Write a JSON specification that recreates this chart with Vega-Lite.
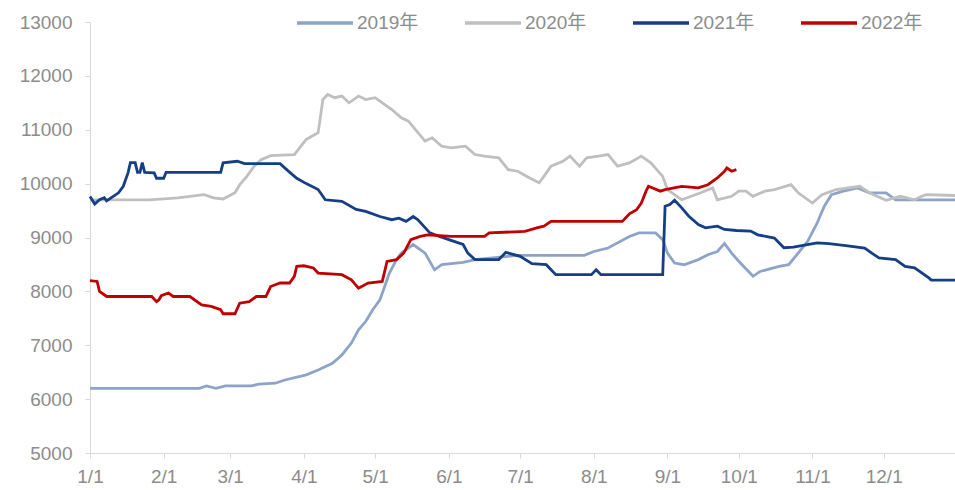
{
  "$schema": "https://vega.github.io/schema/vega-lite/v6.json",
  "width": 865,
  "height": 431,
  "autosize": {"type": "none"},
  "padding": {"left": 90, "top": 22, "right": 0, "bottom": 37},
  "background": "white",
  "config": {
    "view": {"stroke": null},
    "font": "Liberation Sans, Noto Sans CJK SC",
    "axis": {
      "domainColor": "#d9d9d9",
      "tickColor": "#d9d9d9",
      "labelColor": "#8c8c8c",
      "labelFontSize": 19,
      "labelFont": "Liberation Sans, Noto Sans CJK SC",
      "grid": false,
      "title": null
    }
  },
  "data": {
    "format": {"parse": {"d": "date:'%Y-%m-%d'"}},
    "values": [
      {"s": "2019年", "d": "2021-01-01", "v": 6200},
      {"s": "2019年", "d": "2021-02-16", "v": 6200},
      {"s": "2019年", "d": "2021-02-19", "v": 6245},
      {"s": "2019年", "d": "2021-02-23", "v": 6200},
      {"s": "2019年", "d": "2021-02-27", "v": 6245},
      {"s": "2019年", "d": "2021-03-10", "v": 6245},
      {"s": "2019年", "d": "2021-03-13", "v": 6280},
      {"s": "2019年", "d": "2021-03-20", "v": 6295},
      {"s": "2019年", "d": "2021-03-24", "v": 6355},
      {"s": "2019年", "d": "2021-04-02", "v": 6450},
      {"s": "2019年", "d": "2021-04-07", "v": 6540},
      {"s": "2019年", "d": "2021-04-13", "v": 6665},
      {"s": "2019年", "d": "2021-04-17", "v": 6820},
      {"s": "2019年", "d": "2021-04-21", "v": 7040},
      {"s": "2019年", "d": "2021-04-24", "v": 7285},
      {"s": "2019年", "d": "2021-04-27", "v": 7440},
      {"s": "2019年", "d": "2021-04-30", "v": 7660},
      {"s": "2019年", "d": "2021-05-03", "v": 7845},
      {"s": "2019年", "d": "2021-05-05", "v": 8090},
      {"s": "2019年", "d": "2021-05-07", "v": 8340},
      {"s": "2019年", "d": "2021-05-10", "v": 8590},
      {"s": "2019年", "d": "2021-05-12", "v": 8710},
      {"s": "2019年", "d": "2021-05-17", "v": 8870},
      {"s": "2019年", "d": "2021-05-22", "v": 8710},
      {"s": "2019年", "d": "2021-05-26", "v": 8400},
      {"s": "2019年", "d": "2021-05-29", "v": 8495},
      {"s": "2019年", "d": "2021-06-07", "v": 8540},
      {"s": "2019年", "d": "2021-06-12", "v": 8590},
      {"s": "2019年", "d": "2021-06-30", "v": 8670},
      {"s": "2019年", "d": "2021-07-28", "v": 8670},
      {"s": "2019年", "d": "2021-08-01", "v": 8740},
      {"s": "2019年", "d": "2021-08-07", "v": 8805},
      {"s": "2019年", "d": "2021-08-11", "v": 8900},
      {"s": "2019年", "d": "2021-08-16", "v": 9020},
      {"s": "2019年", "d": "2021-08-20", "v": 9085},
      {"s": "2019年", "d": "2021-08-27", "v": 9085},
      {"s": "2019年", "d": "2021-08-30", "v": 8960},
      {"s": "2019年", "d": "2021-09-01", "v": 8710},
      {"s": "2019年", "d": "2021-09-04", "v": 8525},
      {"s": "2019年", "d": "2021-09-08", "v": 8495},
      {"s": "2019年", "d": "2021-09-14", "v": 8590},
      {"s": "2019年", "d": "2021-09-18", "v": 8680},
      {"s": "2019年", "d": "2021-09-22", "v": 8740},
      {"s": "2019年", "d": "2021-09-25", "v": 8890},
      {"s": "2019年", "d": "2021-09-28", "v": 8710},
      {"s": "2019年", "d": "2021-10-01", "v": 8560},
      {"s": "2019年", "d": "2021-10-07", "v": 8280},
      {"s": "2019年", "d": "2021-10-10", "v": 8370},
      {"s": "2019年", "d": "2021-10-18", "v": 8465},
      {"s": "2019年", "d": "2021-10-22", "v": 8495},
      {"s": "2019年", "d": "2021-10-26", "v": 8710},
      {"s": "2019年", "d": "2021-10-30", "v": 8930},
      {"s": "2019年", "d": "2021-11-03", "v": 9270},
      {"s": "2019年", "d": "2021-11-06", "v": 9580},
      {"s": "2019年", "d": "2021-11-09", "v": 9795},
      {"s": "2019年", "d": "2021-11-14", "v": 9860},
      {"s": "2019年", "d": "2021-11-20", "v": 9920},
      {"s": "2019年", "d": "2021-11-25", "v": 9830},
      {"s": "2019年", "d": "2021-12-02", "v": 9830},
      {"s": "2019年", "d": "2021-12-06", "v": 9700},
      {"s": "2019年", "d": "2021-12-31", "v": 9700},

      {"s": "2020年", "d": "2021-01-01", "v": 9700},
      {"s": "2020年", "d": "2021-01-26", "v": 9700},
      {"s": "2020年", "d": "2021-02-07", "v": 9735},
      {"s": "2020年", "d": "2021-02-18", "v": 9795},
      {"s": "2020年", "d": "2021-02-22", "v": 9735},
      {"s": "2020年", "d": "2021-02-26", "v": 9715},
      {"s": "2020年", "d": "2021-03-03", "v": 9830},
      {"s": "2020年", "d": "2021-03-05", "v": 9980},
      {"s": "2020年", "d": "2021-03-08", "v": 10135},
      {"s": "2020年", "d": "2021-03-11", "v": 10320},
      {"s": "2020年", "d": "2021-03-14", "v": 10445},
      {"s": "2020年", "d": "2021-03-18", "v": 10520},
      {"s": "2020年", "d": "2021-03-28", "v": 10540},
      {"s": "2020年", "d": "2021-04-02", "v": 10820},
      {"s": "2020年", "d": "2021-04-07", "v": 10945},
      {"s": "2020年", "d": "2021-04-09", "v": 11560},
      {"s": "2020年", "d": "2021-04-11", "v": 11655},
      {"s": "2020年", "d": "2021-04-14", "v": 11595},
      {"s": "2020年", "d": "2021-04-17", "v": 11625},
      {"s": "2020年", "d": "2021-04-20", "v": 11500},
      {"s": "2020年", "d": "2021-04-24", "v": 11625},
      {"s": "2020年", "d": "2021-04-27", "v": 11560},
      {"s": "2020年", "d": "2021-05-01", "v": 11595},
      {"s": "2020年", "d": "2021-05-04", "v": 11500},
      {"s": "2020年", "d": "2021-05-08", "v": 11375},
      {"s": "2020年", "d": "2021-05-12", "v": 11220},
      {"s": "2020年", "d": "2021-05-15", "v": 11160},
      {"s": "2020年", "d": "2021-05-19", "v": 10945},
      {"s": "2020年", "d": "2021-05-22", "v": 10790},
      {"s": "2020年", "d": "2021-05-25", "v": 10850},
      {"s": "2020年", "d": "2021-05-29", "v": 10695},
      {"s": "2020年", "d": "2021-06-02", "v": 10665},
      {"s": "2020年", "d": "2021-06-08", "v": 10695},
      {"s": "2020年", "d": "2021-06-12", "v": 10540},
      {"s": "2020年", "d": "2021-06-16", "v": 10510},
      {"s": "2020年", "d": "2021-06-22", "v": 10480},
      {"s": "2020年", "d": "2021-06-26", "v": 10260},
      {"s": "2020年", "d": "2021-06-30", "v": 10230},
      {"s": "2020年", "d": "2021-07-05", "v": 10105},
      {"s": "2020年", "d": "2021-07-09", "v": 10015},
      {"s": "2020年", "d": "2021-07-11", "v": 10135},
      {"s": "2020年", "d": "2021-07-14", "v": 10325},
      {"s": "2020年", "d": "2021-07-19", "v": 10415},
      {"s": "2020年", "d": "2021-07-22", "v": 10510},
      {"s": "2020年", "d": "2021-07-26", "v": 10325},
      {"s": "2020年", "d": "2021-07-29", "v": 10480},
      {"s": "2020年", "d": "2021-08-03", "v": 10510},
      {"s": "2020年", "d": "2021-08-07", "v": 10540},
      {"s": "2020年", "d": "2021-08-11", "v": 10325},
      {"s": "2020年", "d": "2021-08-16", "v": 10385},
      {"s": "2020年", "d": "2021-08-21", "v": 10510},
      {"s": "2020年", "d": "2021-08-25", "v": 10385},
      {"s": "2020年", "d": "2021-08-30", "v": 10135},
      {"s": "2020年", "d": "2021-09-01", "v": 9890},
      {"s": "2020年", "d": "2021-09-07", "v": 9700},
      {"s": "2020年", "d": "2021-09-11", "v": 9765},
      {"s": "2020年", "d": "2021-09-15", "v": 9830},
      {"s": "2020年", "d": "2021-09-20", "v": 9920},
      {"s": "2020年", "d": "2021-09-22", "v": 9700},
      {"s": "2020年", "d": "2021-09-28", "v": 9765},
      {"s": "2020年", "d": "2021-10-01", "v": 9860},
      {"s": "2020年", "d": "2021-10-04", "v": 9860},
      {"s": "2020年", "d": "2021-10-07", "v": 9765},
      {"s": "2020年", "d": "2021-10-12", "v": 9860},
      {"s": "2020年", "d": "2021-10-16", "v": 9890},
      {"s": "2020年", "d": "2021-10-23", "v": 9980},
      {"s": "2020年", "d": "2021-10-26", "v": 9830},
      {"s": "2020年", "d": "2021-11-01", "v": 9640},
      {"s": "2020年", "d": "2021-11-05", "v": 9795},
      {"s": "2020年", "d": "2021-11-11", "v": 9890},
      {"s": "2020年", "d": "2021-11-21", "v": 9950},
      {"s": "2020年", "d": "2021-11-25", "v": 9830},
      {"s": "2020年", "d": "2021-12-02", "v": 9690},
      {"s": "2020年", "d": "2021-12-08", "v": 9765},
      {"s": "2020年", "d": "2021-12-14", "v": 9700},
      {"s": "2020年", "d": "2021-12-17", "v": 9765},
      {"s": "2020年", "d": "2021-12-19", "v": 9795},
      {"s": "2020年", "d": "2021-12-31", "v": 9780},

      {"s": "2021年", "d": "2021-01-01", "v": 9760},
      {"s": "2021年", "d": "2021-01-03", "v": 9620},
      {"s": "2021年", "d": "2021-01-05", "v": 9700},
      {"s": "2021年", "d": "2021-01-07", "v": 9740},
      {"s": "2021年", "d": "2021-01-08", "v": 9680},
      {"s": "2021年", "d": "2021-01-10", "v": 9740},
      {"s": "2021年", "d": "2021-01-13", "v": 9830},
      {"s": "2021年", "d": "2021-01-15", "v": 9950},
      {"s": "2021年", "d": "2021-01-17", "v": 10200},
      {"s": "2021年", "d": "2021-01-18", "v": 10390},
      {"s": "2021年", "d": "2021-01-20", "v": 10390},
      {"s": "2021年", "d": "2021-01-21", "v": 10210},
      {"s": "2021年", "d": "2021-01-22", "v": 10210},
      {"s": "2021年", "d": "2021-01-23", "v": 10390},
      {"s": "2021年", "d": "2021-01-24", "v": 10210},
      {"s": "2021年", "d": "2021-01-28", "v": 10200},
      {"s": "2021年", "d": "2021-01-29", "v": 10100},
      {"s": "2021年", "d": "2021-02-01", "v": 10100},
      {"s": "2021年", "d": "2021-02-02", "v": 10210},
      {"s": "2021年", "d": "2021-02-25", "v": 10210},
      {"s": "2021年", "d": "2021-02-26", "v": 10385},
      {"s": "2021年", "d": "2021-03-04", "v": 10415},
      {"s": "2021年", "d": "2021-03-07", "v": 10370},
      {"s": "2021年", "d": "2021-03-22", "v": 10370},
      {"s": "2021年", "d": "2021-03-25", "v": 10250},
      {"s": "2021年", "d": "2021-03-29", "v": 10100},
      {"s": "2021年", "d": "2021-04-02", "v": 10000},
      {"s": "2021年", "d": "2021-04-07", "v": 9890},
      {"s": "2021年", "d": "2021-04-10", "v": 9700},
      {"s": "2021年", "d": "2021-04-17", "v": 9670},
      {"s": "2021年", "d": "2021-04-23", "v": 9520},
      {"s": "2021年", "d": "2021-04-27", "v": 9485},
      {"s": "2021年", "d": "2021-05-03", "v": 9390},
      {"s": "2021年", "d": "2021-05-08", "v": 9330},
      {"s": "2021年", "d": "2021-05-11", "v": 9360},
      {"s": "2021年", "d": "2021-05-14", "v": 9300},
      {"s": "2021年", "d": "2021-05-17", "v": 9390},
      {"s": "2021年", "d": "2021-05-19", "v": 9330},
      {"s": "2021年", "d": "2021-05-24", "v": 9085},
      {"s": "2021年", "d": "2021-05-28", "v": 9020},
      {"s": "2021年", "d": "2021-06-01", "v": 8960},
      {"s": "2021年", "d": "2021-06-07", "v": 8870},
      {"s": "2021年", "d": "2021-06-09", "v": 8710},
      {"s": "2021年", "d": "2021-06-12", "v": 8590},
      {"s": "2021年", "d": "2021-06-22", "v": 8590},
      {"s": "2021年", "d": "2021-06-25", "v": 8725},
      {"s": "2021年", "d": "2021-07-01", "v": 8650},
      {"s": "2021年", "d": "2021-07-06", "v": 8515},
      {"s": "2021年", "d": "2021-07-12", "v": 8495},
      {"s": "2021年", "d": "2021-07-16", "v": 8310},
      {"s": "2021年", "d": "2021-07-31", "v": 8310},
      {"s": "2021年", "d": "2021-08-02", "v": 8400},
      {"s": "2021年", "d": "2021-08-04", "v": 8310},
      {"s": "2021年", "d": "2021-08-30", "v": 8310},
      {"s": "2021年", "d": "2021-08-31", "v": 9580},
      {"s": "2021年", "d": "2021-09-02", "v": 9610},
      {"s": "2021年", "d": "2021-09-04", "v": 9690},
      {"s": "2021年", "d": "2021-09-07", "v": 9550},
      {"s": "2021年", "d": "2021-09-10", "v": 9395},
      {"s": "2021年", "d": "2021-09-14", "v": 9240},
      {"s": "2021年", "d": "2021-09-17", "v": 9180},
      {"s": "2021年", "d": "2021-09-22", "v": 9210},
      {"s": "2021年", "d": "2021-09-25", "v": 9150},
      {"s": "2021年", "d": "2021-09-30", "v": 9130},
      {"s": "2021年", "d": "2021-10-06", "v": 9120},
      {"s": "2021年", "d": "2021-10-09", "v": 9050},
      {"s": "2021年", "d": "2021-10-16", "v": 8990},
      {"s": "2021年", "d": "2021-10-20", "v": 8810},
      {"s": "2021年", "d": "2021-10-24", "v": 8820},
      {"s": "2021年", "d": "2021-11-03", "v": 8900},
      {"s": "2021年", "d": "2021-11-08", "v": 8885},
      {"s": "2021年", "d": "2021-11-15", "v": 8850},
      {"s": "2021年", "d": "2021-11-23", "v": 8805},
      {"s": "2021年", "d": "2021-11-26", "v": 8710},
      {"s": "2021年", "d": "2021-11-29", "v": 8620},
      {"s": "2021年", "d": "2021-12-06", "v": 8590},
      {"s": "2021年", "d": "2021-12-10", "v": 8465},
      {"s": "2021年", "d": "2021-12-14", "v": 8435},
      {"s": "2021年", "d": "2021-12-20", "v": 8250},
      {"s": "2021年", "d": "2021-12-21", "v": 8210},
      {"s": "2021年", "d": "2021-12-31", "v": 8210},

      {"s": "2022年", "d": "2021-01-01", "v": 8200},
      {"s": "2022年", "d": "2021-01-04", "v": 8185},
      {"s": "2022年", "d": "2021-01-05", "v": 8000},
      {"s": "2022年", "d": "2021-01-08", "v": 7905},
      {"s": "2022年", "d": "2021-01-27", "v": 7905},
      {"s": "2022年", "d": "2021-01-29", "v": 7810},
      {"s": "2022年", "d": "2021-01-30", "v": 7845},
      {"s": "2022年", "d": "2021-01-31", "v": 7920},
      {"s": "2022年", "d": "2021-02-03", "v": 7970},
      {"s": "2022年", "d": "2021-02-05", "v": 7905},
      {"s": "2022年", "d": "2021-02-12", "v": 7905},
      {"s": "2022年", "d": "2021-02-17", "v": 7750},
      {"s": "2022年", "d": "2021-02-21", "v": 7720},
      {"s": "2022年", "d": "2021-02-25", "v": 7660},
      {"s": "2022年", "d": "2021-02-26", "v": 7585},
      {"s": "2022年", "d": "2021-03-03", "v": 7585},
      {"s": "2022年", "d": "2021-03-05", "v": 7780},
      {"s": "2022年", "d": "2021-03-09", "v": 7810},
      {"s": "2022年", "d": "2021-03-12", "v": 7905},
      {"s": "2022年", "d": "2021-03-16", "v": 7905},
      {"s": "2022年", "d": "2021-03-18", "v": 8090},
      {"s": "2022年", "d": "2021-03-22", "v": 8155},
      {"s": "2022年", "d": "2021-03-26", "v": 8155},
      {"s": "2022年", "d": "2021-03-28", "v": 8280},
      {"s": "2022年", "d": "2021-03-29", "v": 8465},
      {"s": "2022年", "d": "2021-04-01", "v": 8475},
      {"s": "2022年", "d": "2021-04-05", "v": 8435},
      {"s": "2022年", "d": "2021-04-07", "v": 8340},
      {"s": "2022年", "d": "2021-04-17", "v": 8310},
      {"s": "2022年", "d": "2021-04-21", "v": 8215},
      {"s": "2022年", "d": "2021-04-24", "v": 8060},
      {"s": "2022年", "d": "2021-04-28", "v": 8155},
      {"s": "2022年", "d": "2021-05-04", "v": 8185},
      {"s": "2022年", "d": "2021-05-06", "v": 8555},
      {"s": "2022年", "d": "2021-05-10", "v": 8590},
      {"s": "2022年", "d": "2021-05-13", "v": 8710},
      {"s": "2022年", "d": "2021-05-16", "v": 8960},
      {"s": "2022年", "d": "2021-05-20", "v": 9020},
      {"s": "2022年", "d": "2021-05-23", "v": 9050},
      {"s": "2022年", "d": "2021-06-02", "v": 9020},
      {"s": "2022年", "d": "2021-06-16", "v": 9020},
      {"s": "2022年", "d": "2021-06-18", "v": 9085},
      {"s": "2022年", "d": "2021-07-03", "v": 9115},
      {"s": "2022年", "d": "2021-07-08", "v": 9180},
      {"s": "2022年", "d": "2021-07-11", "v": 9210},
      {"s": "2022年", "d": "2021-07-14", "v": 9300},
      {"s": "2022年", "d": "2021-08-13", "v": 9300},
      {"s": "2022年", "d": "2021-08-16", "v": 9440},
      {"s": "2022年", "d": "2021-08-19", "v": 9515},
      {"s": "2022年", "d": "2021-08-21", "v": 9640},
      {"s": "2022年", "d": "2021-08-23", "v": 9860},
      {"s": "2022年", "d": "2021-08-24", "v": 9950},
      {"s": "2022年", "d": "2021-08-29", "v": 9860},
      {"s": "2022年", "d": "2021-08-31", "v": 9890},
      {"s": "2022年", "d": "2021-09-07", "v": 9950},
      {"s": "2022年", "d": "2021-09-14", "v": 9920},
      {"s": "2022年", "d": "2021-09-18", "v": 9980},
      {"s": "2022年", "d": "2021-09-22", "v": 10105},
      {"s": "2022年", "d": "2021-09-25", "v": 10230},
      {"s": "2022年", "d": "2021-09-26", "v": 10290},
      {"s": "2022年", "d": "2021-09-28", "v": 10230},
      {"s": "2022年", "d": "2021-09-30", "v": 10260}
    ]
  },
  "mark": {"type": "line", "strokeWidth": 2.8, "interpolate": "linear"},
  "encoding": {
    "x": {
      "field": "d",
      "type": "temporal",
      "scale": {"domain": [{"year": 2021, "month": 1, "date": 1}, {"year": 2021, "month": 12, "date": 31}]},
      "axis": {
        "format": "%-m/%-d",
        "tickCount": {"interval": "month", "step": 1},
        "tickSize": 5,
        "labelPadding": 9,
        "labelFlush": false,
        "labelOverlap": false
      }
    },
    "y": {
      "field": "v",
      "type": "quantitative",
      "scale": {"domain": [5000, 13000], "nice": false, "zero": false},
      "axis": {
        "values": [5000, 6000, 7000, 8000, 9000, 10000, 11000, 12000, 13000],
        "format": "d",
        "tickSize": 5,
        "labelPadding": 13
      }
    },
    "color": {
      "field": "s",
      "type": "nominal",
      "scale": {
        "domain": ["2019年", "2020年", "2021年", "2022年"],
        "range": ["#8DA3C9", "#BFBFBF", "#153F85", "#C00000"]
      },
      "legend": {
        "orient": "none",
        "legendX": 205,
        "legendY": -29,
        "direction": "horizontal",
        "title": null,
        "padding": 0,
        "symbolType": "stroke",
        "symbolSize": 3136,
        "symbolStrokeWidth": 3.5,
        "labelFontSize": 19,
        "labelColor": "#8c8c8c",
        "labelFont": "Liberation Sans, Noto Sans CJK SC",
        "labelOffset": 2,
        "columnPadding": 39
      }
    },
    "order": {"field": "d", "type": "temporal"}
  }
}
